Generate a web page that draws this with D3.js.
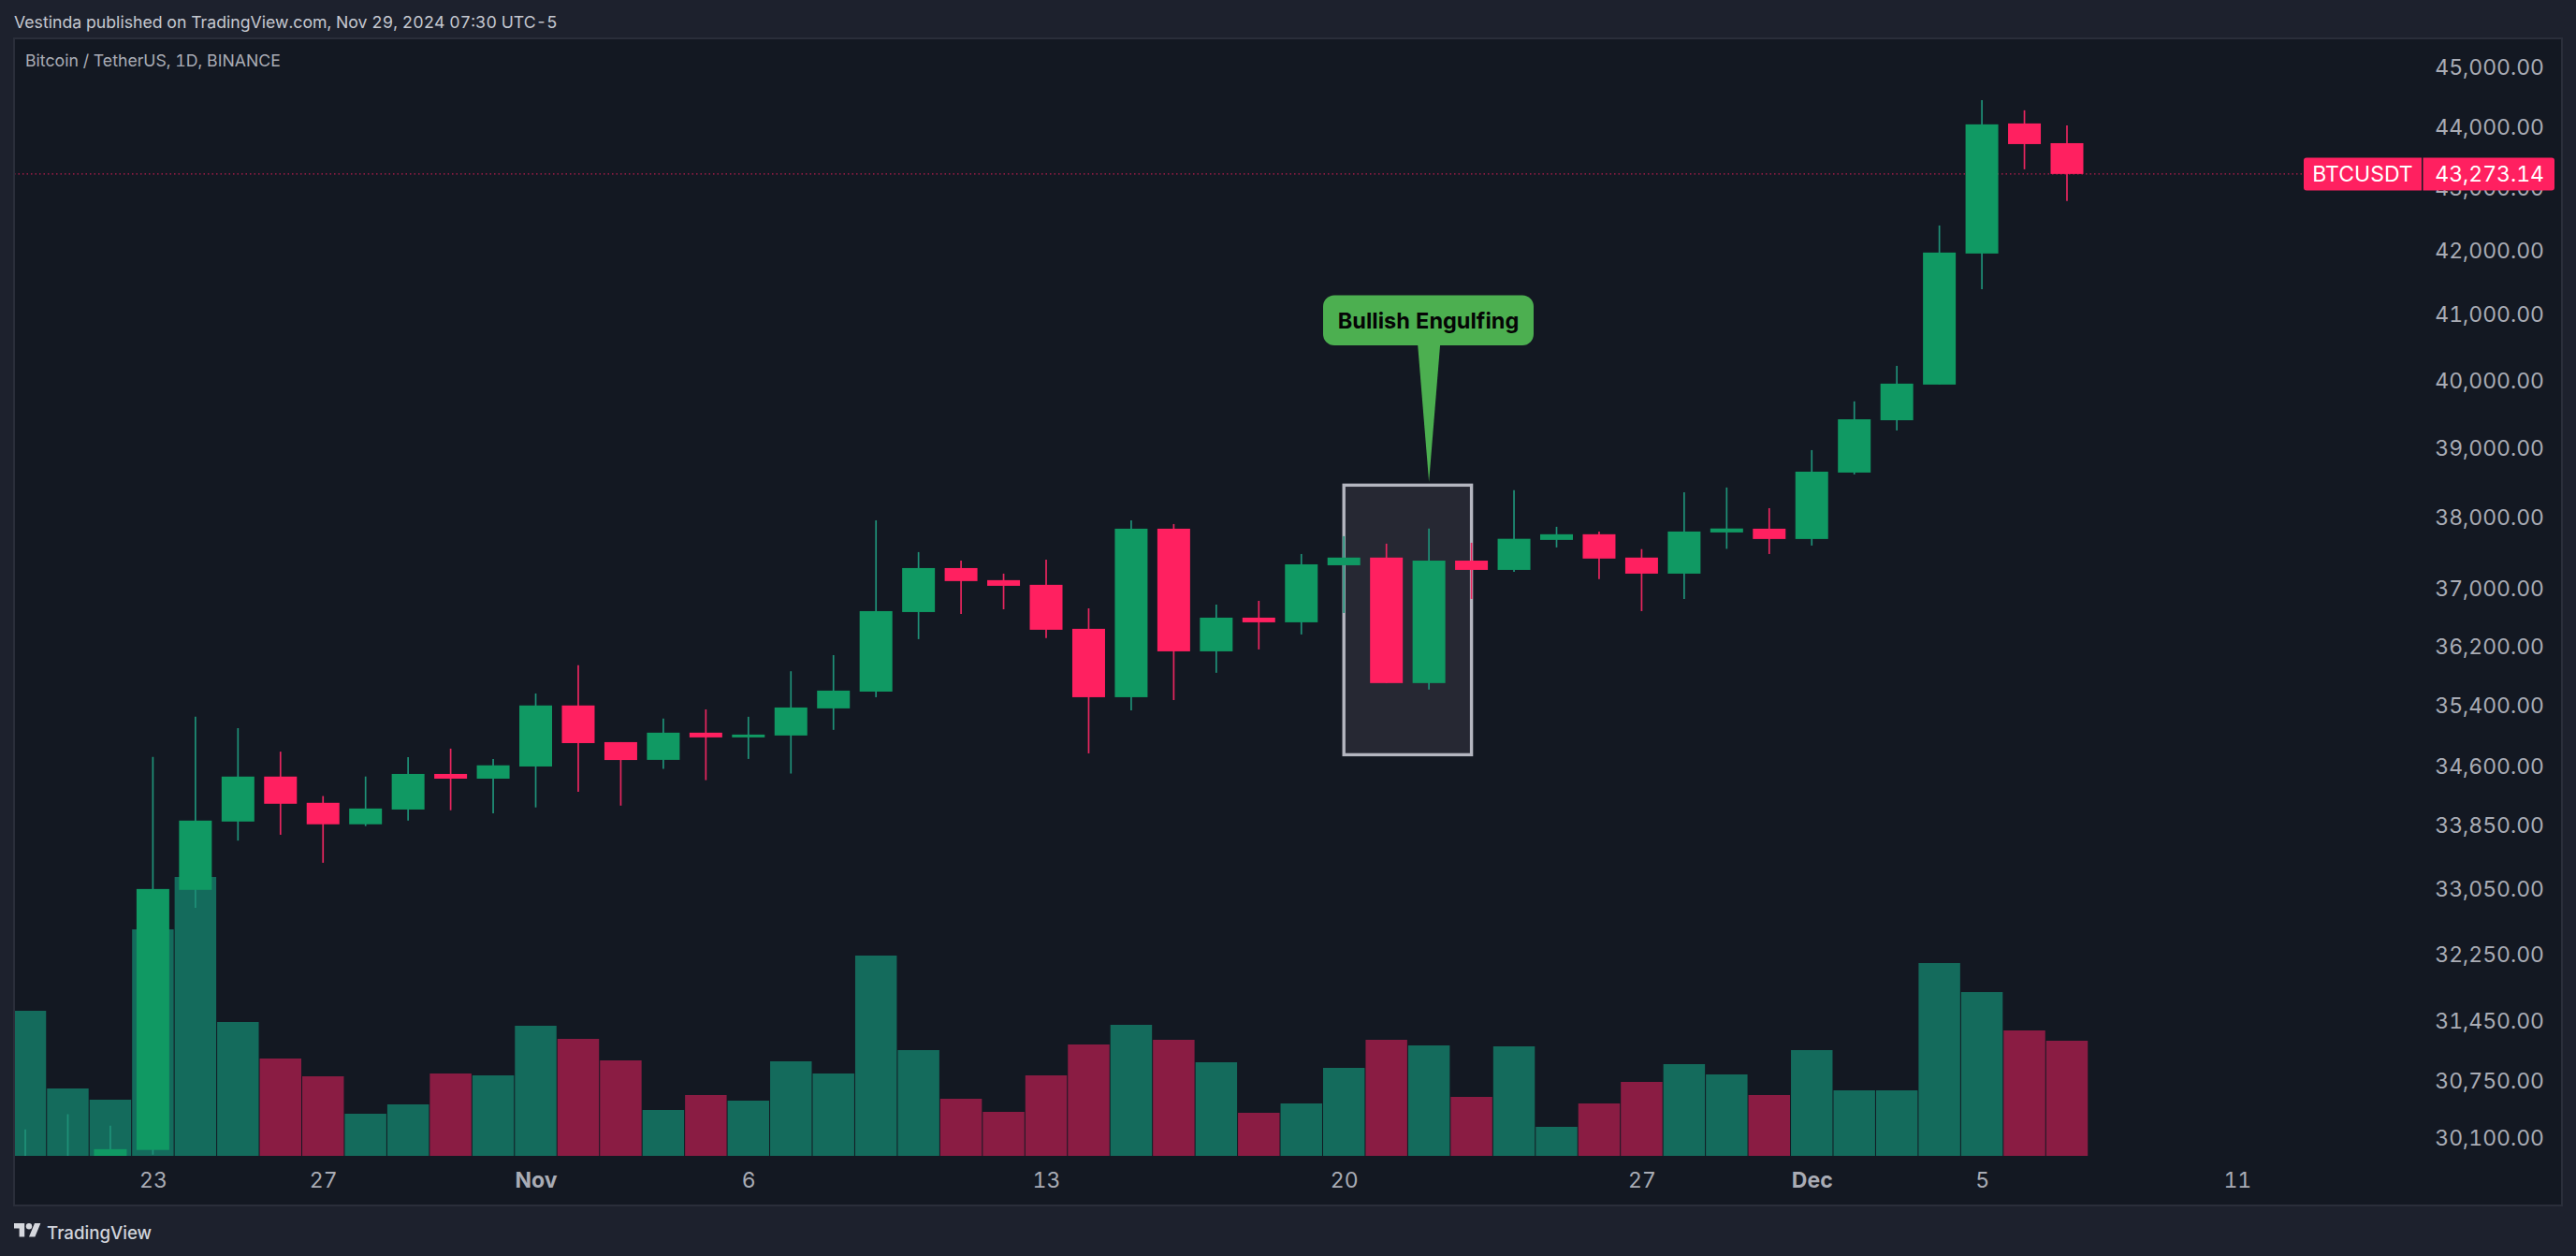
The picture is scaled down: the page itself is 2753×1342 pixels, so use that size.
<!DOCTYPE html>
<html>
<head>
<meta charset="utf-8">
<script src="https://cdn.jsdelivr.net/npm/d3@7"></script>
<style>
html, body { margin: 0; padding: 0; background: #1d212d; }
svg { display: block; }
text { font-family: Inter, "Noto Sans", sans-serif; font-variant-numeric: tabular-nums; }
</style>
</head>
<body>
<svg width="2753" height="1342"></svg>
<script>
// daily bars, index 0 = Oct 20
var opens = [29796,29785,29848,29966,33040,33899,34476,34138,33864,34052,34510,34449,34607,35409,34925,34693,35049,34987,35012,35370,35594,36673,37284,37115,37050,36443,35519,37839,36136,36596,36532,37323,37431,35708,37388,37258,37680,37760,37431,37206,37786,37839,37693,38645,39412,39943,41958,44058,43733];
var highs = [30198,30371,30240,34731,35259,35109,34800,34225,34477,34729,34840,34705,35569,35947,34925,35234,35357,35259,35867,36085,37958,37508,37388,37206,37402,36724,37958,37905,36776,36828,37481,37733,37627,37842,37640,38391,37866,37799,37550,38361,38429,38132,38972,39692,40225,42402,44446,44276,44027];
var lows = [29743,29740,29760,29912,32817,33657,33731,33378,33841,33910,34043,34005,34079,34281,34102,34576,34430,34705,34515,35086,35519,36302,36647,36711,36315,34778,35345,35481,35846,36162,36366,36660,35708,35620,36854,37232,37574,37128,36686,36854,37554,37481,37600,38618,39261,39943,41398,43306,42792];
var closes = [29848,29848,29975,33051,33911,34476,34126,33864,34065,34510,34449,34622,35409,34912,34691,35049,34987,35024,35382,35607,36686,37284,37102,37036,36430,35519,37839,36136,36596,36532,37336,37431,35708,37388,37258,37696,37760,37417,37206,37799,37842,37693,38658,39426,39957,41973,44043,43718,43230];
var volumes = [155,72,60,242,298,143,104,85,45,55,88,86,139,125,102,49,65,59,101,88,214,113,61,47,86,119,140,124,100,46,56,94,124,118,63,117,31,56,79,98,87,65,113,70,70,206,175,134,123];

var priceTicks = [45000,44000,43000,42000,41000,40000,39000,38000,37000,36200,35400,34600,33850,33050,32250,31450,30750,30100];
var dayTicks = [3,7,12,17,24,31,38,42,46,52];
var dayLabels = ["23","27","Nov","6","13","20","27","Dec","5","11"];

var lastPriceLabel = "43,273.14";
var symbol = "BTCUSDT";

var svg = d3.select("svg");
var width = +svg.attr("width");
var height = +svg.attr("height");

var green = "#109963";
var red = "#ff2060";

var pane = { left: 15, top: 41, right: 2738, bottom: 1288 };
var volumeBase = 1235;

var x = d3.scaleLinear().domain([3, 48]).range([163.4, 2209]);
var y = d3.scaleLog().domain([30100, 45000]).range([1216, 71.7]);
var yVolume = d3.scaleLinear().domain([0, 298]).range([volumeBase, 937]);

var step = x(1) - x(0);
var bodyWidth = 35;

var bars = opens.map(function(o, i) {
    return { i: i, open: o, high: highs[i], low: lows[i], close: closes[i], volume: volumes[i], up: closes[i] >= o };
});

// frame and pane
svg.append("rect").attr("width", width).attr("height", height).attr("fill", "#1d212d");
svg.append("rect")
    .attr("x", pane.left).attr("y", pane.top)
    .attr("width", pane.right - pane.left).attr("height", pane.bottom - pane.top)
    .attr("fill", "#131822").attr("stroke", "#2a2e3a").attr("stroke-width", 2);

svg.append("defs").append("clipPath").attr("id", "plot").append("rect")
    .attr("x", pane.left + 1).attr("y", pane.top + 1)
    .attr("width", pane.right - pane.left - 2).attr("height", volumeBase - pane.top - 1);

var plot = svg.append("g").attr("clip-path", "url(#plot)");

// volume
plot.append("g").selectAll("rect").data(bars).enter().append("rect")
    .attr("x", function(d) { return x(d.i) - step / 2 + 0.5; })
    .attr("y", function(d) { return yVolume(d.volume); })
    .attr("width", step - 1)
    .attr("height", function(d) { return volumeBase - yVolume(d.volume); })
    .attr("fill", function(d) { return d.up ? "#146b5c" : "#8a1c43"; });

// last price line
plot.append("line")
    .attr("x1", pane.left).attr("x2", 2462)
    .attr("y1", y(closes[48])).attr("y2", y(closes[48]))
    .attr("stroke", red).attr("stroke-opacity", 0.7).attr("stroke-width", 1.2)
    .attr("stroke-dasharray", "1.5 3");

// engulfing box, sits behind the candles
plot.append("rect")
    .attr("x", x(31)).attr("y", y(38463))
    .attr("width", x(34) - x(31)).attr("height", y(34760) - y(38463))
    .attr("fill", "#262833").attr("stroke", "#b4b6c0").attr("stroke-width", 3.4);

// candles
plot.append("g").selectAll("line").data(bars).enter().append("line")
    .attr("x1", function(d) { return x(d.i); })
    .attr("x2", function(d) { return x(d.i); })
    .attr("y1", function(d) { return y(d.high); })
    .attr("y2", function(d) { return y(d.low); })
    .attr("stroke", function(d) { return d.up ? "#1f9178" : "#e8265f"; })
    .attr("stroke-width", 1.7);

plot.append("g").selectAll("rect").data(bars).enter().append("rect")
    .attr("x", function(d) { return x(d.i) - bodyWidth / 2; })
    .attr("y", function(d) { return y(Math.max(d.open, d.close)); })
    .attr("width", bodyWidth)
    .attr("height", function(d) { return Math.abs(y(d.open) - y(d.close)); })
    .attr("fill", function(d) { return d.up ? green : red; });

// callout
var tipX = x(33);
var tipY = y(38510);
var callout = svg.append("g");
callout.append("path")
    .attr("d", d3.line()([[tipX - 12, 368], [tipX + 12, 368], [tipX, tipY]]) + "Z")
    .attr("fill", "#4caf50");
callout.append("rect")
    .attr("x", 1414).attr("y", 315.5).attr("width", 225).attr("height", 53.5).attr("rx", 12)
    .attr("fill", "#4caf50");
callout.append("text")
    .attr("x", 1526.5).attr("y", 350.5).attr("text-anchor", "middle")
    .attr("font-size", 23.5).attr("font-weight", 700).attr("fill", "#050505")
    .text("Bullish Engulfing");

// axes
var yAxis = d3.axisRight(y).tickValues(priceTicks).tickSize(0).tickPadding(0)
    .tickFormat(d3.format(",.2f"));
var yG = svg.append("g").attr("transform", "translate(2719,0)").call(yAxis);
yG.select(".domain").remove();
yG.selectAll("text")
    .attr("text-anchor", "end")
    .attr("font-size", 23).attr("fill", "#a9acb5")
    .style("font-family", "Inter, sans-serif");

var xAxis = d3.axisBottom(x).tickValues(dayTicks).tickSize(0).tickPadding(0)
    .tickFormat(function(d, i) { return dayLabels[i]; });
var xG = svg.append("g").attr("transform", "translate(0,1253)").call(xAxis);
xG.select(".domain").remove();
xG.selectAll("text")
    .attr("font-size", 23).attr("fill", "#a9acb5")
    .attr("font-weight", function(d, i) { return isNaN(+dayLabels[i]) ? 700 : 400; })
    .style("font-family", "Inter, sans-serif");

// last price tags
var tagY = y(closes[48]) - 17.5;
svg.append("path")
    .attr("d", "M2465," + tagY + "H2588V" + (tagY + 35) + "H2465a3,3 0 0 1 -3,-3V" + (tagY + 3) + "a3,3 0 0 1 3,-3Z")
    .attr("fill", red);
svg.append("path")
    .attr("d", "M2589.5," + tagY + "H2727a3,3 0 0 1 3,3V" + (tagY + 32) + "a3,3 0 0 1 -3,3H2589.5Z")
    .attr("fill", red);
svg.append("text").attr("x", 2525).attr("y", tagY + 26).attr("text-anchor", "middle")
    .attr("font-size", 23).attr("fill", "#ffffff").text(symbol);
svg.append("text").attr("x", 2719).attr("y", tagY + 25.5).attr("text-anchor", "end")
    .attr("font-size", 23).attr("fill", "#ffffff").text(lastPriceLabel);

// header and titles
svg.append("text").attr("x", 15).attr("y", 30)
    .attr("font-size", 17.7).attr("fill", "#c5c8d0")
    .text("Vestinda published on TradingView.com, Nov 29, 2024 07:30 UTC-5");
svg.append("text").attr("x", 27).attr("y", 71)
    .attr("font-size", 17.7).attr("fill", "#a9acb5")
    .text("Bitcoin / TetherUS, 1D, BINANCE");

// logo
var logo = svg.append("g").attr("transform", "translate(15,1303.8) scale(0.8)").attr("fill", "#d6d8de");
logo.append("path").attr("d", "M14 22H7V11H0V4h14v18ZM28 22h-8l7.5-18h8L28 22Z");
logo.append("circle").attr("cx", 20).attr("cy", 8).attr("r", 4);
svg.append("text").attr("x", 50).attr("y", 1323.5)
    .attr("font-size", 18.7).attr("font-weight", 500).attr("fill", "#d1d4dc")
    .text("TradingView");
</script>
</body>
</html>
